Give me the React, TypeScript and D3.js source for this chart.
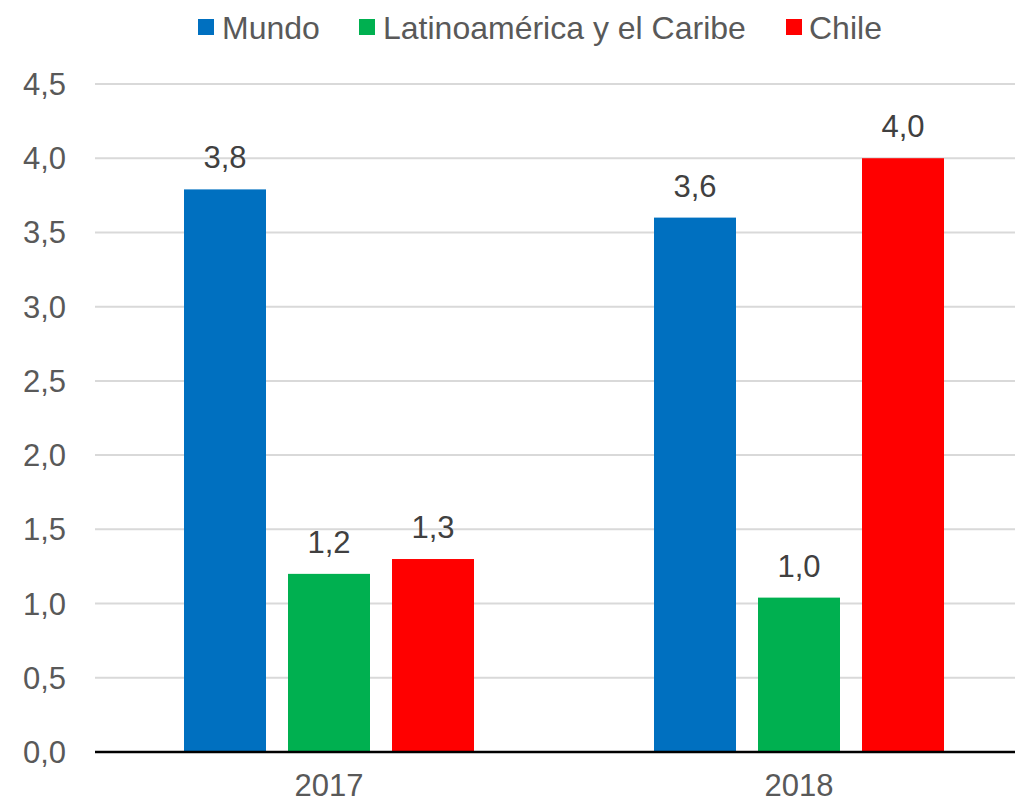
import React from "react";
import * as d3 from "d3";

const categories = ["2017", "2018"];
const seriesNames = ["Mundo", "Latinoamérica y el Caribe", "Chile"];
const seriesColors = ["#0070C0", "#00B050", "#FF0000"];
const mundo = [3.79, 3.6];
const latam = [1.2, 1.04];
const chile = [1.3, 4.0];
const yTicks = [0, 0.5, 1, 1.5, 2, 2.5, 3, 3.5, 4, 4.5];

const W = 1015;
const H = 803;
const FONT = "'Liberation Sans', Arial, sans-serif";

export default function App() {
  const seriesValues = [mundo, latam, chile];
  const x = d3.scaleBand<string>().domain(categories).range([94, 1034]).padding(0);
  const step = x.bandwidth();
  const barW = 82;
  const gap = 22;
  const innerStep = barW + gap;
  const pi = gap / innerStep;
  const po = (step / innerStep - (3 - pi)) / 2;
  const inner = d3
    .scaleBand<string>()
    .domain(seriesNames)
    .range([0, step])
    .paddingInner(pi)
    .paddingOuter(po);
  const y = d3.scaleLinear().domain([0, 4.5]).range([752, 84]);
  const fmt = (v: number) => d3.format(".1f")(v).replace(".", ",");

  const legendItems = [
    { sq: 198, tx: 222 },
    { sq: 359, tx: 383 },
    { sq: 786, tx: 809 },
  ];

  return (
    <svg width={W} height={H} style={{ position: "absolute", left: 0, top: 0 }} fontFamily={FONT}>
      <rect width={W} height={H} fill="#fff" />
      {yTicks.map((t) => (
        <g key={t}>
          {t > 0 && <line x1={95} x2={W} y1={y(t)} y2={y(t)} stroke="#D9D9D9" strokeWidth={2} />}
          <text x={66} y={y(t) + 11} textAnchor="end" fontSize={31} fill="#595959">
            {fmt(t)}
          </text>
        </g>
      ))}
      {seriesNames.map((s, si) =>
        categories.map((c, ci) => {
          const v = seriesValues[si][ci];
          const bx = (x(c) as number) + (inner(s) as number);
          return (
            <g key={s + c}>
              <rect x={bx} y={y(v)} width={inner.bandwidth()} height={y(0) - y(v)} fill={seriesColors[si]} />
              <text
                x={bx + inner.bandwidth() / 2}
                y={y(v) - 21}
                textAnchor="middle"
                fontSize={31}
                fill="#404040"
              >
                {fmt(v)}
              </text>
            </g>
          );
        })
      )}
      <line x1={95} x2={W} y1={y(0)} y2={y(0)} stroke="#000" strokeWidth={2.5} />
      {categories.map((c) => (
        <text key={c} x={(x(c) as number) + step / 2} y={796} textAnchor="middle" fontSize={31} fill="#595959">
          {c}
        </text>
      ))}
      {seriesNames.map((s, i) => (
        <g key={s}>
          <rect x={legendItems[i].sq} y={19} width={16} height={16} fill={seriesColors[i]} />
          <text x={legendItems[i].tx} y={39} fontSize={32} fill="#595959">
            {s}
          </text>
        </g>
      ))}
    </svg>
  );
}
